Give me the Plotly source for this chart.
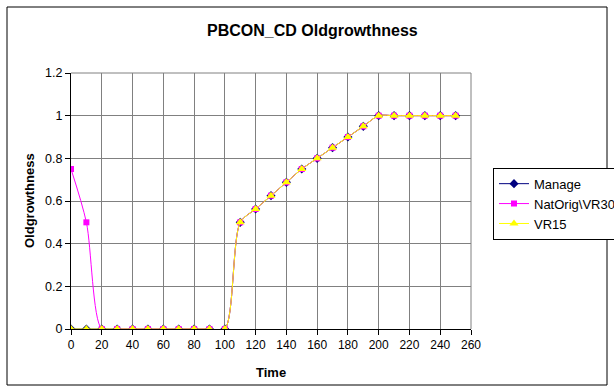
import plotly.graph_objects as go

time = [0, 10, 20, 30, 40, 50, 60, 70, 80, 90, 100, 110, 120, 130, 140, 150, 160, 170, 180, 190, 200, 210, 220, 230, 240, 250]
manage = [0, 0, 0, 0, 0, 0, 0, 0, 0, 0, 0, 0.5, 0.5625, 0.625, 0.6875, 0.75, 0.8, 0.85, 0.9, 0.95, 1, 1, 1, 1, 1, 1]
natorig = [0.75, 0.5, 0, 0, 0, 0, 0, 0, 0, 0, 0, 0.5, 0.5625, 0.625, 0.6875, 0.75, 0.8, 0.85, 0.9, 0.95, 1, 1, 1, 1, 1, 1]
vr15 = [0, 0, 0, 0, 0, 0, 0, 0, 0, 0, 0, 0.5, 0.5625, 0.625, 0.6875, 0.75, 0.8, 0.85, 0.9, 0.95, 1, 1, 1, 1, 1, 1]

FONT = "Liberation Sans, Arial, sans-serif"

fig = go.Figure()
fig.add_trace(go.Scatter(x=time, y=manage, name="Manage", mode="lines+markers",
                         line=dict(color="#000080", width=1, shape="spline", smoothing=0.8),
                         marker=dict(symbol="diamond", size=7, color="#000080")))
fig.add_trace(go.Scatter(x=time, y=natorig, name="NatOrig\\VR30", mode="lines+markers",
                         line=dict(color="#FF00FF", width=1, shape="spline", smoothing=0.8),
                         marker=dict(symbol="square", size=6, color="#FF00FF")))
fig.add_trace(go.Scatter(x=time, y=vr15, name="VR15", mode="lines+markers",
                         line=dict(color="#FFFF00", width=1, shape="spline", smoothing=0.8),
                         marker=dict(symbol="triangle-up", size=8, color="#FFFF00")))

fig.update_layout(
    width=614, height=392,
    margin=dict(l=71, r=143, t=73, b=63, autoexpand=False),
    paper_bgcolor="white", plot_bgcolor="white",
    font=dict(family=FONT, size=12, color="black"),
    showlegend=True,
    legend=dict(x=1.055, y=0.63, xanchor="left", yanchor="top",
                bordercolor="black", borderwidth=1, bgcolor="white",
                font=dict(family=FONT, size=13), tracegroupgap=0, itemwidth=30),
    xaxis=dict(range=[0, 260], tick0=0, dtick=20, showgrid=True, gridcolor="#808080", gridwidth=1,
               showline=True, linecolor="black", linewidth=1, ticks="outside", ticklen=5,
               tickcolor="black", zeroline=False, mirror=False, tickfont=dict(size=12)),
    yaxis=dict(range=[0, 1.2], tick0=0, dtick=0.2, showgrid=True, gridcolor="#808080", gridwidth=1,
               showline=True, linecolor="black", linewidth=1, ticks="outside", ticklen=5,
               tickcolor="black", zeroline=False, tickfont=dict(size=12.5)),
    annotations=[
        dict(text="<b>PBCON_CD Oldgrowthness</b>", x=(312 - 71) / 400, y=(329 - 30) / 256, xref="paper", yref="paper",
             showarrow=False, font=dict(family=FONT, size=16), xanchor="center", yanchor="middle"),
        dict(text="<b>Time</b>", x=0.5, y=(329 - 372) / 256, xref="paper", yref="paper",
             showarrow=False, font=dict(family=FONT, size=13), xanchor="center", yanchor="middle"),
        dict(text="<b>Oldgrowthness</b>", x=(29 - 71) / 400, y=0.5, xref="paper", yref="paper",
             showarrow=False, textangle=-90, font=dict(family=FONT, size=13), xanchor="center", yanchor="middle"),
    ],
    shapes=[
        dict(type="line", xref="paper", yref="paper", x0=1, x1=1, y0=0, y1=1, line=dict(color="#808080", width=1)),
        dict(type="line", xref="paper", yref="paper", x0=0, x1=1, y0=1, y1=1, line=dict(color="#808080", width=1)),
        dict(type="rect", xref="paper", yref="paper", x0=(7 - 71) / 400, x1=(607 - 71) / 400,
             y0=(329 - 385) / 256, y1=(329 - 7) / 256, line=dict(color="black", width=1)),
    ],
)

fig.write_html("out.html", config={"displayModeBar": False},
               post_script="document.body.style.margin='0';")
